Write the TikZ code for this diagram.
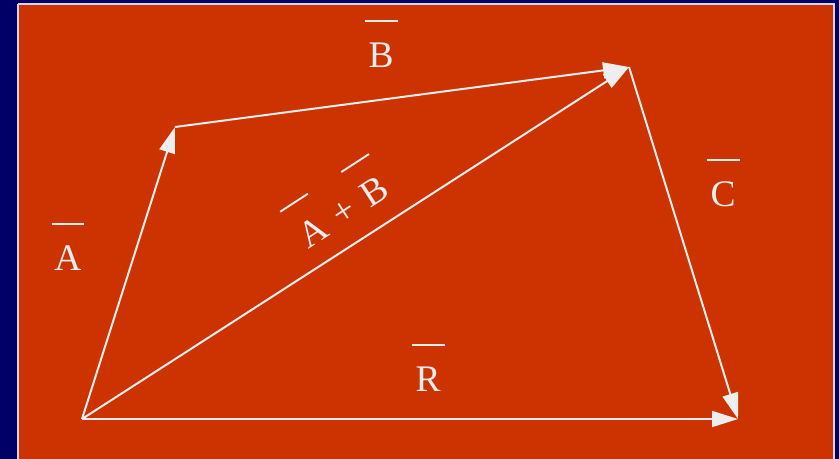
\documentclass[tikz,border=0pt]{standalone}
\usepackage{fontspec}
\setmainfont{Liberation Serif}
\usetikzlibrary{arrows.meta}

\definecolor{slideNavy}{HTML}{000066}
\definecolor{slideOrange}{HTML}{CC3300}
\definecolor{slideEdge}{HTML}{D4D4E6}
\definecolor{vecWhite}{HTML}{EEEEEE}

% letter with a bar set well above it
\newcommand{\barlbl}[1]{\begin{tabular}[b]{@{}c@{}}\rule{0.88em}{0.05em}\\#1\end{tabular}}

\begin{document}
\begin{tikzpicture}[
  x=0.03cm, y=-0.03cm,
  vecArrow/.style={draw=vecWhite, line width=1.7pt,
                   -{Triangle[length=0.78cm, width=0.48cm]}},
  vecLabel/.style={text=vecWhite, anchor=base, inner sep=0pt,
                   font=\fontsize{32}{39}\selectfont}
]
  % === Slide background ===
  \fill[slideNavy] (0,0) rectangle (839,459);
  \useasboundingbox (0,0) rectangle (839,459);
  \fill[slideOrange] (19,5) rectangle (834,462);
  \draw[slideEdge, line width=1.2pt] (18,4) -- (834,4) -- (834,462);
  \draw[slideEdge, line width=1.2pt] (18,4) -- (18,462);

  % === Vector end points ===
  \coordinate (o) at (82,419);
  \coordinate (pa) at (175,127);
  \coordinate (pb) at (629,67);
  \coordinate (pc) at (738,419);

  % === Vectors ===
  \draw[vecArrow] (o) -- (pa);
  \draw[vecArrow] (pa) -- (pb);
  \draw[vecArrow] (o) -- (pb);
  \draw[vecArrow] (pb) -- (pc);
  \draw[vecArrow] (o) -- (pc);

  % === Labels ===
  \node[vecLabel] (labA) at (68,271) {\barlbl{A}};
  \node[vecLabel] (labB) at (381,68) {\barlbl{B}};
  \node[vecLabel] (labC) at (723,207) {\barlbl{C}};
  \node[vecLabel] (labR) at (428,392) {\barlbl{R}};
  \node[vecLabel, rotate=33] (labAB) at (350,222)
    {\barlbl{A} + \barlbl{B}};
\end{tikzpicture}
\end{document}
